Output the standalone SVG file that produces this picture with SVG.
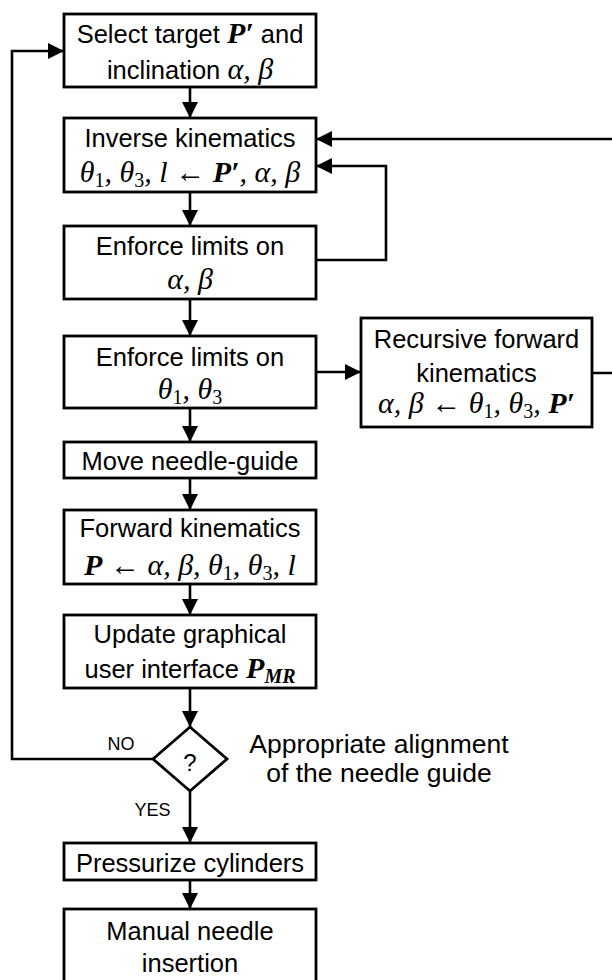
<svg xmlns="http://www.w3.org/2000/svg" width="612" height="980" viewBox="0 0 612 980">
<style>
.box{fill:#fff;stroke:#000;stroke-width:2.8}
.t{font-family:"Liberation Sans",Arial,sans-serif;font-size:25.5px;text-anchor:middle;fill:#000}
.m{font-family:"Liberation Serif","Times New Roman",serif;font-style:italic;font-size:30px}
.b{font-weight:bold}
.s{font-size:20px;font-style:normal}
.sb{font-size:20px;font-weight:bold;font-style:italic}
.lbl{font-family:"Liberation Sans",Arial,sans-serif;font-size:18px;text-anchor:middle;fill:#000}
.ln{fill:none;stroke:#000;stroke-width:2.6}
</style>
<defs>
<marker id="ah" markerUnits="userSpaceOnUse" markerWidth="16" markerHeight="16" refX="16" refY="8" orient="auto">
<path d="M0,0 L16,8 L0,16 z" fill="#000"/>
</marker>
</defs>
<rect width="612" height="980" fill="#fff"/>
<g id="connectors">
<path class="ln" d="M190,87 L190,118" marker-end="url(#ah)"/>
<path class="ln" d="M190,192 L190,226" marker-end="url(#ah)"/>
<path class="ln" d="M190,299 L190,336" marker-end="url(#ah)"/>
<path class="ln" d="M190,408 L190,442" marker-end="url(#ah)"/>
<path class="ln" d="M190,478 L190,510" marker-end="url(#ah)"/>
<path class="ln" d="M190,584 L190,615" marker-end="url(#ah)"/>
<path class="ln" d="M190,688 L190,727" marker-end="url(#ah)"/>
<path class="ln" d="M190,791 L190,843" marker-end="url(#ah)"/>
<path class="ln" d="M190,880 L190,909" marker-end="url(#ah)"/>
<path class="ln" d="M153,759 L12,759 L12,51 L64,51" marker-end="url(#ah)"/>
<path class="ln" d="M316,260 L386,260 L386,166 L316,166" marker-end="url(#ah)"/>
<path class="ln" d="M316,372 L361,372" marker-end="url(#ah)"/>
<path class="ln" d="M592,373 L615,373 L615,139 L316,139" marker-end="url(#ah)"/>
<text class="lbl" x="121" y="750">NO</text>
<text class="lbl" x="152.5" y="816">YES</text>
</g>
<g id="select">
<rect class="box" x="64" y="14" width="252" height="73"/>
<text class="t" x="190" y="43">Select target <tspan class="m b">P′</tspan> and</text>
<text class="t" x="190" y="79">inclination <tspan class="m">α, β</tspan></text>
</g>
<g id="inverse">
<rect class="box" x="64" y="118" width="252" height="74"/>
<text class="t" x="190" y="147">Inverse kinematics</text>
<text class="t" x="190" y="182"><tspan class="m">θ</tspan><tspan class="m s" dy="5">1</tspan><tspan class="m" dy="-5">, θ</tspan><tspan class="m s" dy="5">3</tspan><tspan class="m" dy="-5">, l  ← </tspan><tspan class="m b">P′</tspan><tspan class="m">, α, β</tspan></text>
</g>
<g id="limits-ab">
<rect class="box" x="64" y="226" width="252" height="73"/>
<text class="t" x="190" y="255">Enforce limits on</text>
<text class="t" x="190" y="289"><tspan class="m">α, β</tspan></text>
</g>
<g id="limits-theta">
<rect class="box" x="64" y="336" width="252" height="72"/>
<text class="t" x="190" y="366">Enforce limits on</text>
<text class="t" x="190" y="399"><tspan class="m">θ</tspan><tspan class="m s" dy="5">1</tspan><tspan class="m" dy="-5">, θ</tspan><tspan class="m s" dy="5">3</tspan></text>
</g>
<g id="recursive">
<rect class="box" x="361" y="318" width="231" height="109"/>
<text class="t" x="476.5" y="348">Recursive forward</text>
<text class="t" x="476.5" y="382">kinematics</text>
<text class="t" x="476.5" y="413"><tspan class="m">α, β ← θ</tspan><tspan class="m s" dy="5">1</tspan><tspan class="m" dy="-5">, θ</tspan><tspan class="m s" dy="5">3</tspan><tspan class="m" dy="-5">, </tspan><tspan class="m b">P′</tspan></text>
</g>
<g id="move">
<rect class="box" x="64" y="442" width="252" height="36"/>
<text class="t" x="190" y="470">Move needle-guide</text>
</g>
<g id="forward">
<rect class="box" x="64" y="510" width="252" height="74"/>
<text class="t" x="190" y="537">Forward kinematics</text>
<text class="t" x="190" y="575"><tspan class="m b">P</tspan><tspan class="m"> ← α, β, θ</tspan><tspan class="m s" dy="5">1</tspan><tspan class="m" dy="-5">, θ</tspan><tspan class="m s" dy="5">3</tspan><tspan class="m" dy="-5">, l</tspan></text>
</g>
<g id="gui">
<rect class="box" x="64" y="615" width="252" height="73"/>
<text class="t" x="190" y="643">Update graphical</text>
<text class="t" x="190" y="678">user interface <tspan class="m b">P</tspan><tspan class="m sb" dy="5">MR</tspan></text>
</g>
<g id="decision">
<polygon class="box" points="190,727 227,759 190,791 153,759"/>
<text class="t" x="190" y="771" style="font-size:24px">?</text>
<text class="t" x="379" y="753" style="font-size:26.5px">Appropriate alignment</text>
<text class="t" x="379" y="782" style="font-size:26.5px">of the needle guide</text>
</g>
<g id="pressurize">
<rect class="box" x="64" y="843" width="252" height="37"/>
<text class="t" x="190" y="872">Pressurize cylinders</text>
</g>
<g id="insertion">
<rect class="box" x="64" y="909" width="252" height="76"/>
<text class="t" x="190" y="940">Manual needle</text>
<text class="t" x="190" y="972">insertion</text>
</g>
</svg>
